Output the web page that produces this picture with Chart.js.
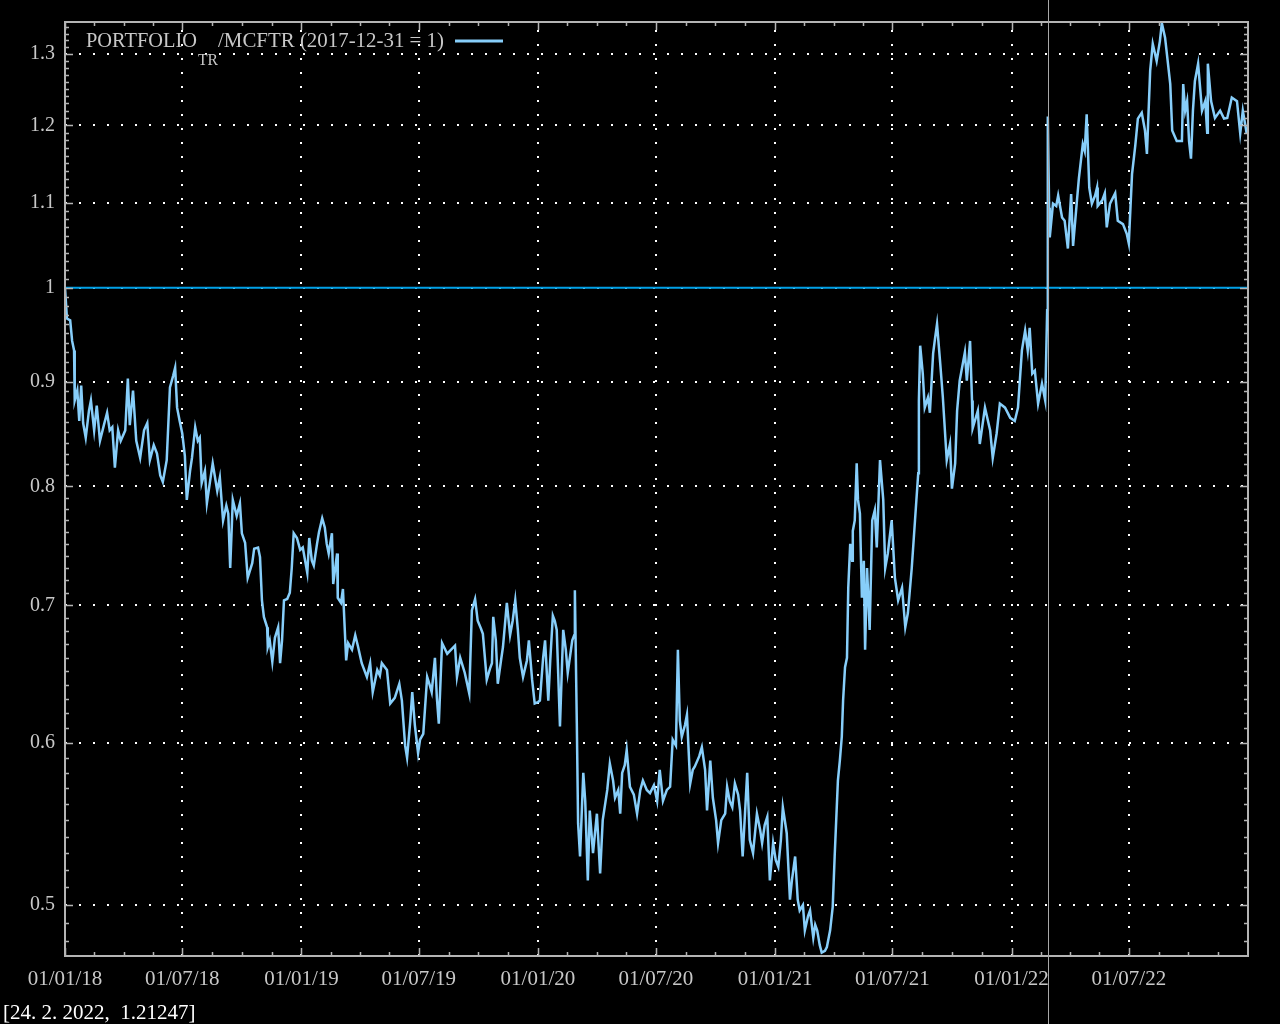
<!DOCTYPE html>
<html>
<head>
<meta charset="utf-8">
<script src="https://cdn.jsdelivr.net/npm/chart.js@4/dist/chart.umd.min.js"></script>
<style>
  body { margin: 0; background: #000; }
  #wrap { width: 1280px; height: 1024px; }
</style>
</head>
<body>
<div id="wrap"><canvas id="myChart" width="1280" height="1024"></canvas></div>
<script>
// giorni dal 01/01/2018 e rapporto portafoglio / indice (2017-12-31 = 1)
const days = [
  0,3,8,11,14,15,19,22,25,28,
  32,37,40,45,49,54,60,65,69,73,
  77,82,86,93,97,100,105,110,116,122,
  127,131,137,142,147,151,157,162,167,170,
  173,177,181,185,188,193,196,201,205,208,
  211,216,219,224,228,235,239,244,249,252,
  255,259,265,270,273,278,282,289,292,298,
  301,304,307,312,313,316,320,324,329,332,
  335,338,343,347,350,353,358,363,367,374,
  377,381,384,389,392,397,401,404,407,412,
  414,420,421,426,429,434,437,443,448,452,
  458,466,471,475,482,486,489,497,502,509,
  516,520,525,528,533,536,540,545,548,553,
  559,563,566,571,574,577,582,590,596,602,
  605,610,617,624,628,633,637,642,645,651,
  656,659,661,665,668,673,676,682,687,691,
  695,699,702,707,713,716,721,725,730,733,
  738,741,746,749,753,756,759,764,769,773,
  776,783,786,787,790,792,795,800,803,807,
  810,815,821,826,830,837,841,846,849,854,
  857,860,864,867,872,878,883,888,892,898,
  903,909,914,918,923,929,934,938,943,946,
  949,952,957,960,965,969,972,979,983,988,
  991,996,1000,1005,1008,1013,1019,1022,1026,1030,
  1034,1039,1042,1046,1053,1057,1062,1068,1073,1076,
  1080,1084,1088,1093,1097,1101,1105,1108,1111,1114,
  1119,1122,1127,1131,1134,1139,1142,1147,1150,1155,
  1158,1161,1165,1168,1173,1176,1181,1185,1188,1193,
  1196,1199,1201,1204,1207,1209,1212,1215,1216,1219,
  1222,1224,1227,1230,1233,1235,1238,1242,1246,1250,
  1253,1258,1263,1266,1270,1276,1281,1286,1292,1297,
  1301,1307,1312,1317,1318,1320,1324,1327,1332,1335,
  1340,1343,1346,1351,1355,1361,1366,1369,1374,1377,
  1381,1389,1392,1397,1400,1401,1409,1412,1420,1428,
  1432,1438,1443,1451,1459,1466,1471,1477,1482,1486,
  1489,1493,1497,1502,1508,1513,1516,1517,1519,1520,
  1525,1530,1533,1539,1543,1548,1553,1556,1562,1565,
  1571,1574,1577,1581,1585,1590,1593,1594,1601,1605,
  1608,1613,1621,1625,1633,1639,1642,1647,1652,1656,
  1662,1667,1670,1675,1679,1685,1690,1693,1698,1702,
  1706,1709,1716,1724,1726,1729,1732,1735,1738,1741,
  1744,1749,1755,1760,1763,1764,1769,1775,1783,1789,
  1794,1801,1809,1814,1818,1824
]
const ratio = [
  1.000,0.966,0.964,0.942,0.932,0.881,0.891,0.861,0.896,0.859,
  0.845,0.871,0.881,0.852,0.876,0.842,0.857,0.869,0.852,0.855,
  0.817,0.852,0.842,0.852,0.903,0.857,0.891,0.842,0.826,0.852,
  0.859,0.824,0.838,0.830,0.810,0.804,0.824,0.894,0.906,0.914,
  0.874,0.861,0.849,0.828,0.788,0.814,0.826,0.855,0.842,0.845,
  0.803,0.814,0.785,0.805,0.821,0.796,0.808,0.770,0.783,0.776,
  0.730,0.788,0.774,0.785,0.759,0.751,0.722,0.734,0.746,0.747,
  0.739,0.704,0.691,0.683,0.668,0.673,0.657,0.675,0.683,0.656,
  0.673,0.704,0.705,0.710,0.730,0.759,0.755,0.745,0.747,0.726,
  0.755,0.736,0.732,0.750,0.760,0.772,0.764,0.750,0.742,0.759,
  0.717,0.742,0.706,0.702,0.713,0.658,0.671,0.666,0.677,0.669,
  0.656,0.646,0.656,0.635,0.651,0.647,0.656,0.651,0.627,0.631,
  0.641,0.629,0.598,0.590,0.615,0.635,0.612,0.593,0.602,0.606,
  0.646,0.640,0.635,0.660,0.631,0.613,0.671,0.663,0.666,0.669,
  0.646,0.660,0.649,0.634,0.696,0.705,0.688,0.682,0.678,0.644,
  0.652,0.656,0.691,0.673,0.641,0.658,0.668,0.702,0.677,0.688,
  0.704,0.681,0.660,0.646,0.658,0.673,0.644,0.627,0.628,0.629,
  0.660,0.673,0.629,0.658,0.692,0.688,0.681,0.611,0.681,0.666,
  0.649,0.673,0.677,0.712,0.613,0.548,0.528,0.580,0.562,0.514,
  0.556,0.530,0.554,0.518,0.550,0.569,0.586,0.575,0.564,0.569,
  0.554,0.580,0.585,0.595,0.571,0.566,0.554,0.569,0.575,0.569,
  0.567,0.572,0.562,0.582,0.562,0.569,0.571,0.602,0.598,0.666,
  0.615,0.604,0.612,0.619,0.573,0.582,0.584,0.591,0.597,0.582,
  0.556,0.588,0.564,0.550,0.536,0.550,0.554,0.571,0.562,0.558,
  0.573,0.566,0.556,0.528,0.580,0.538,0.530,0.554,0.544,0.536,
  0.547,0.552,0.514,0.536,0.526,0.522,0.538,0.558,0.550,0.542,
  0.503,0.514,0.528,0.503,0.497,0.500,0.486,0.494,0.497,0.482,
  0.489,0.486,0.478,0.474,0.475,0.477,0.486,0.499,0.528,0.575,
  0.588,0.604,0.629,0.653,0.660,0.714,0.750,0.736,0.761,0.770,
  0.821,0.788,0.776,0.706,0.736,0.666,0.730,0.681,0.770,0.779,
  0.747,0.824,0.788,0.730,0.742,0.770,0.722,0.704,0.714,0.683,
  0.694,0.730,0.770,0.812,0.881,0.937,0.908,0.874,0.884,0.869,
  0.929,0.945,0.960,0.918,0.884,0.824,0.839,0.798,0.821,0.871,
  0.901,0.930,0.901,0.942,0.881,0.854,0.871,0.839,0.874,0.852,
  0.826,0.849,0.878,0.874,0.864,0.861,0.874,0.932,0.953,0.932,
  0.956,0.908,0.911,0.878,0.898,0.881,0.975,1.212,1.094,1.058,
  1.099,1.096,1.109,1.082,1.078,1.045,1.111,1.048,1.103,1.131,
  1.175,1.166,1.215,1.119,1.099,1.109,1.119,1.096,1.103,1.112,
  1.070,1.099,1.112,1.078,1.074,1.062,1.051,1.136,1.173,1.209,
  1.217,1.193,1.162,1.276,1.315,1.290,1.319,1.346,1.324,1.290,
  1.257,1.193,1.179,1.179,1.257,1.220,1.233,1.179,1.156,1.220,
  1.261,1.286,1.220,1.233,1.190,1.286,1.233,1.210,1.220,1.209,
  1.210,1.238,1.233,1.189,1.220,1.189
]
const refLevel = 1

// etichette asse x (01/01/18 = giorno 0) e asse y
const tickDays = [0, 181, 365, 546, 730, 912, 1096, 1277, 1461, 1642]
const tickLabels = ['01/01/18', '01/07/18', '01/01/19', '01/07/19', '01/01/20', '01/07/20', '01/01/21', '01/07/21', '01/01/22', '01/07/22']
const yTicks = [0.5, 0.6, 0.7, 0.8, 0.9, 1, 1.1, 1.2, 1.3]

const crosshairDay = 1517
const statusText = '[24. 2. 2022,  1.21247]'

const FONT = 'Liberation Serif'
const frameColor = '#b4b4b4'
const textColor = '#c8c8c8'

//disegna griglia, cornice, tacche, legenda e mirino
const gnuplotLook = {
  id: 'gnuplotLook',
  beforeDraw(chart) {
    const c = chart.ctx
    c.save()
    c.fillStyle = '#000'
    c.fillRect(0, 0, chart.width, chart.height)
    c.restore()
  },
  beforeDatasetsDraw(chart) {
    const c = chart.ctx
    const a = chart.chartArea
    const xs = chart.scales.x
    const ys = chart.scales.y
    c.save()
    c.strokeStyle = '#fff'
    c.lineWidth = 2
    c.setLineDash([2, 12])
    tickDays.forEach(d => {
      if (d === 0) return
      const px = Math.round(xs.getPixelForValue(d))
      c.beginPath()
      c.moveTo(px, a.bottom)
      c.lineTo(px, a.top)
      c.stroke()
    })
    yTicks.forEach(v => {
      const py = Math.round(ys.getPixelForValue(v))
      c.beginPath()
      c.moveTo(a.left, py)
      c.lineTo(a.right, py)
      c.stroke()
    })
    c.restore()
  },
  afterDatasetsDraw(chart) {
    const c = chart.ctx
    const a = chart.chartArea
    const xs = chart.scales.x
    const ys = chart.scales.y
    c.save()
    c.strokeStyle = frameColor
    c.lineWidth = 2
    c.strokeRect(a.left, a.top, a.right - a.left, a.bottom - a.top)

    c.lineWidth = 1.5
    const tick = (px, py, dx, dy) => {
      c.beginPath()
      c.moveTo(px, py)
      c.lineTo(px + dx, py + dy)
      c.stroke()
    }
    // tacche asse x (maggiori + 3 minori)
    for (let k = 0; k < tickDays.length; k++) {
      const d0 = tickDays[k]
      const d1 = k + 1 < tickDays.length ? tickDays[k + 1] : xs.max
      const px = Math.round(xs.getPixelForValue(d0)) + 0.5
      tick(px, a.bottom, 0, -8)
      tick(px, a.top, 0, 8)
      for (let m = 1; m < 4; m++) {
        const pm = Math.round(xs.getPixelForValue(d0 + (d1 - d0) * m / 4)) + 0.5
        tick(pm, a.bottom, 0, -4)
        tick(pm, a.top, 0, 4)
      }
    }
    // tacche asse y (logaritmico, minori ogni 0.01)
    for (let i = 48; i <= 134; i++) {
      const v = i / 100
      const major = yTicks.some(t => Math.abs(t - v) < 1e-9)
      const py = Math.round(ys.getPixelForValue(v)) + 0.5
      const len = major ? 8 : 4
      tick(a.left, py, len, 0)
      tick(a.right, py, -len, 0)
    }

    // legenda
    c.fillStyle = textColor
    c.textBaseline = 'alphabetic'
    c.textAlign = 'left'
    c.font = '21px "' + FONT + '"'
    c.fillText('PORTFOLIO', 86, 47, 111)
    c.font = '16px "' + FONT + '"'
    c.fillText('TR', 198, 65, 20)
    c.font = '21px "' + FONT + '"'
    c.fillText('/MCFTR (2017-12-31 = 1)', 218, 47, 226)
    c.strokeStyle = '#87cefa'
    c.lineWidth = 3
    c.beginPath()
    c.moveTo(455, 41)
    c.lineTo(503, 41)
    c.stroke()

    // mirino e coordinate
    const cx = Math.round(xs.getPixelForValue(crosshairDay)) + 0.5
    c.strokeStyle = '#a8a8a8'
    c.lineWidth = 1
    c.beginPath()
    c.moveTo(cx, 0)
    c.lineTo(cx, chart.height)
    c.stroke()
    c.fillStyle = '#fff'
    c.font = '21px "' + FONT + '"'
    c.fillText(statusText, 3, 1019)
    c.restore()
  }
}

const ctx = document.getElementById('myChart').getContext('2d')
const myChart = new Chart(ctx, {
  type: 'line',
  data: {
    datasets: [{
      label: 'PORTFOLIO TR / MCFTR',
      data: days.map((d, i) => ({ x: d, y: ratio[i] })),
      borderColor: '#87cefa',
      borderWidth: 2.5,
      pointRadius: 0,
      tension: 0,
      fill: false
    }, {
      label: 'base',
      data: [{ x: 0, y: refLevel }, { x: 1826, y: refLevel }],
      borderColor: '#00a0e6',
      borderWidth: 2,
      pointRadius: 0,
      fill: false
    }]
  },
  options: {
    responsive: false,
    animation: false,
    layout: { padding: { top: 21, right: 32, left: 0, bottom: 0 } },
    plugins: {
      legend: { display: false },
      tooltip: { enabled: false }
    },
    scales: {
      x: {
        type: 'linear',
        min: 0,
        max: 1826,
        grid: { display: false, drawTicks: false },
        border: { display: false },
        afterBuildTicks: s => { s.ticks = tickDays.map(v => ({ value: v })) },
        afterFit: s => { s.height = 68 },
        ticks: {
          autoSkip: false,
          maxRotation: 0,
          padding: 11,
          color: textColor,
          font: { family: FONT, size: 21 },
          callback: (v, i) => tickLabels[i]
        }
      },
      y: {
        type: 'logarithmic',
        min: 0.4722,
        max: 1.3476,
        grid: { display: false, drawTicks: false },
        border: { display: false },
        afterBuildTicks: s => { s.ticks = yTicks.map(v => ({ value: v })) },
        afterFit: s => { s.width = 65 },
        ticks: {
          autoSkip: false,
          padding: 10,
          color: textColor,
          font: { family: FONT, size: 20 },
          callback: v => String(Number(v.toFixed(2)))
        }
      }
    }
  },
  plugins: [gnuplotLook]
})
</script>
</body>
</html>
